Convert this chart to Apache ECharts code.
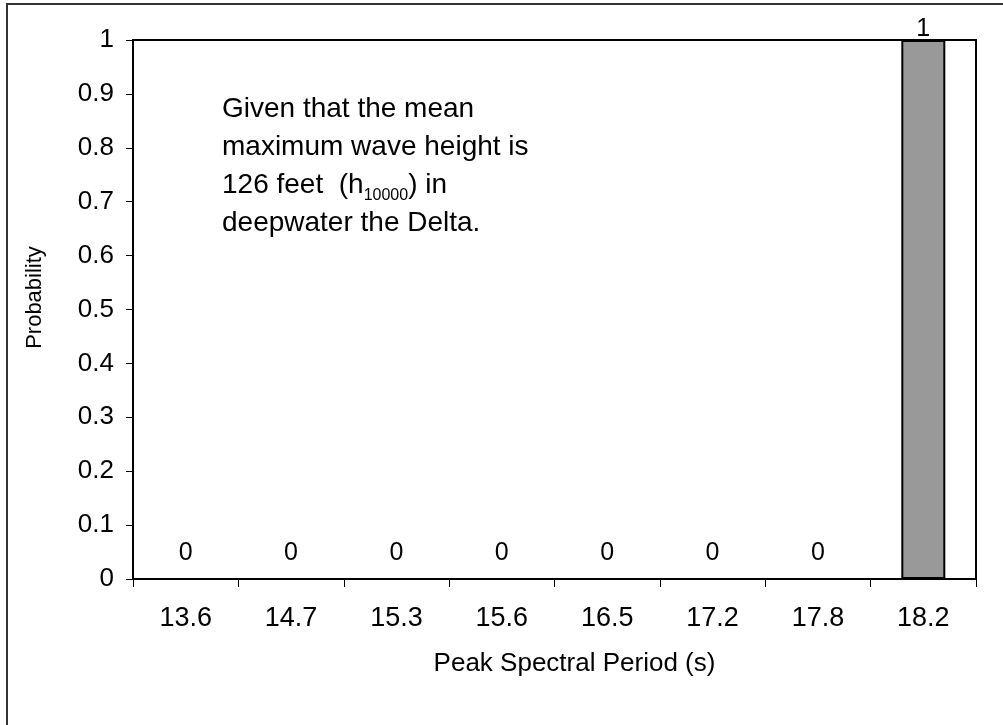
<!DOCTYPE html>
<html>
<head>
<meta charset="utf-8">
<script src="https://cdn.jsdelivr.net/npm/echarts@6/dist/echarts.min.js"></script>
<style>
  html, body { margin: 0; padding: 0; background: #fff; }
  #chart { width: 1003px; height: 725px; }
</style>
</head>
<body>
<div id="chart"></div>
<script>
// peak spectral period categories (s)
var periods = ['13.6', '14.7', '15.3', '15.6', '16.5', '17.2', '17.8', '18.2']
var probability = [0, 0, 0, 0, 0, 0, 0, 1]

var FONT = 'Liberation Sans, Arial, sans-serif'

var chart = echarts.init(document.getElementById('chart'))

var barLabel = { show: true, position: 'top', fontFamily: FONT, fontSize: 25, color: '#000' }

var barData = probability.map(function (v) {
  return {
    value: v,
    // zero bars have their labels lifted off the axis
    label: Object.assign({}, barLabel, { distance: v === 0 ? 12 : -2 })
  }
})

chart.setOption({
  animation: false,
  grid: {
    left: 133,
    top: 40,
    width: 843,
    height: 539,
    show: true,
    borderColor: '#000',
    borderWidth: 2,
    backgroundColor: '#fff'
  },
  xAxis: {
    type: 'category',
    data: periods,
    name: 'Peak Spectral Period (s)',
    nameLocation: 'middle',
    nameGap: 72,
    nameTextStyle: { fontFamily: FONT, fontSize: 26, color: '#000', padding: [0, 0, 0, 40] },
    axisLine: { lineStyle: { color: '#000', width: 2 } },
    axisTick: { show: true, alignWithLabel: false, interval: 0, length: 8, lineStyle: { color: '#000', width: 1 } },
    axisLabel: { fontFamily: FONT, fontSize: 27, color: '#000', margin: 26, interval: 0 },
    splitLine: { show: false }
  },
  yAxis: {
    type: 'value',
    min: 0,
    max: 1,
    interval: 0.1,
    name: 'Probability',
    nameLocation: 'middle',
    nameGap: 87,
    nameTextStyle: { fontFamily: FONT, fontSize: 22, color: '#000', padding: [0, 0, 0, 24] },
    axisLine: { show: true, lineStyle: { color: '#000', width: 2 } },
    axisTick: { show: true, length: 7, lineStyle: { color: '#000', width: 1 } },
    axisLabel: { fontFamily: FONT, fontSize: 26, color: '#000', margin: 19 },
    splitLine: { show: false }
  },
  series: [{
    type: 'bar',
    data: barData,
    barWidth: 44,
    itemStyle: { color: '#999999', borderColor: '#000', borderWidth: 2 },
    label: barLabel
  }],
  graphic: [
    {
      type: 'rect',
      shape: { x: 7, y: 4, width: 1020, height: 740 },
      style: { fill: 'none', stroke: '#333', lineWidth: 2 },
      z: -10
    },
    {
      type: 'text',
      left: 222,
      top: 90,
      style: {
        text: 'Given that the mean\nmaximum wave height is\n126 feet  (h{sub|10000}) in\ndeepwater the Delta.',
        font: '28px ' + FONT,
        fill: '#000',
        lineHeight: 38,
        rich: {
          sub: { fontSize: 16, fontFamily: FONT, fill: '#000', verticalAlign: 'bottom', padding: [10, 0, 0, 0] }
        }
      }
    }
  ]
})
</script>
</body>
</html>
